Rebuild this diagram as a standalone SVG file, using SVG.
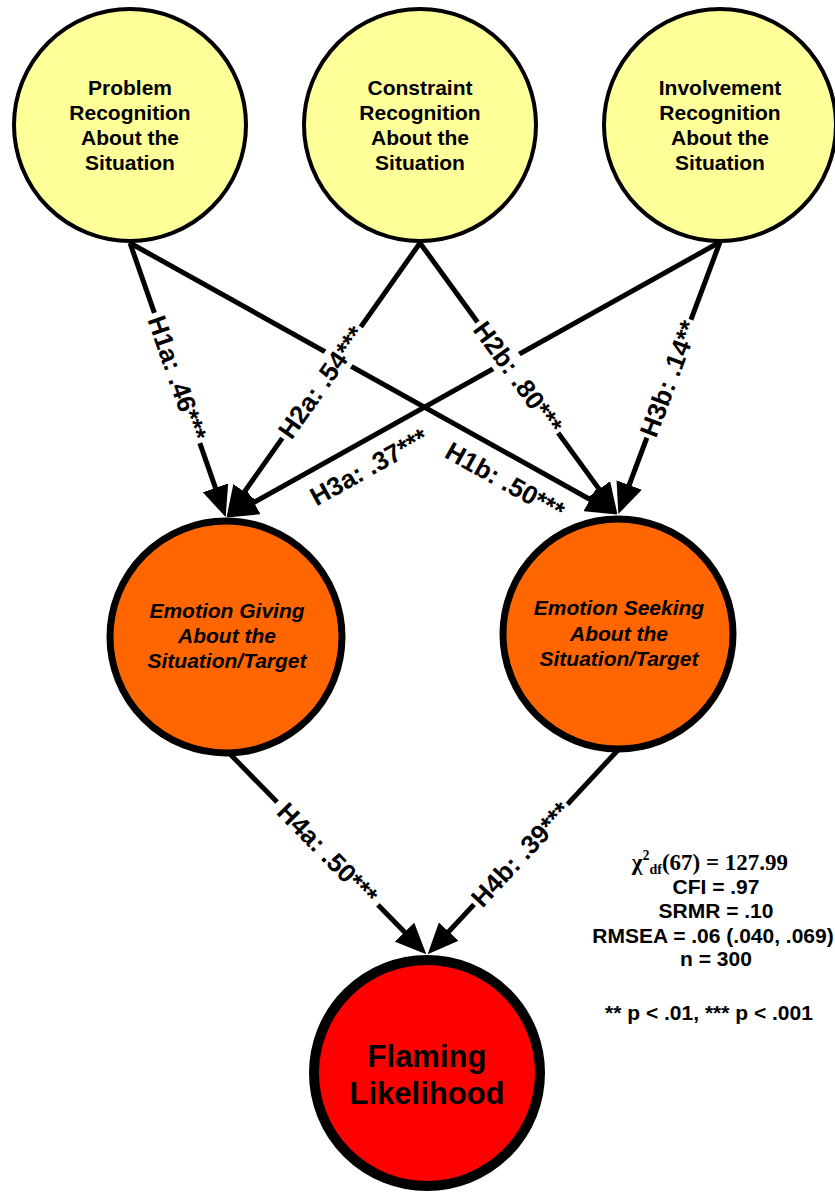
<svg xmlns="http://www.w3.org/2000/svg" width="835" height="1195" viewBox="0 0 835 1195">
<style>
.t{font-family:"Liberation Sans",Arial,sans-serif;font-weight:bold;fill:#000;text-anchor:middle}
.top{font-size:21px}
.mid{font-size:21px;font-style:italic}
.big{font-size:31px}
.lab{font-size:26px}
.st{font-size:21px}
.conn{stroke:#000;stroke-width:5;fill:none;marker-end:url(#ah)}
.bg{fill:#fff}
</style>
<defs>
<marker id="ah" markerUnits="userSpaceOnUse" markerWidth="31" markerHeight="27" viewBox="0 0 31 27" refX="16" refY="13.5" orient="auto">
<path d="M0,0 L31,13.5 L0,27 Z" fill="#000"/>
</marker>
</defs>
<rect width="835" height="1195" fill="#fff"/>
<g id="connectors">
<line class="conn" x1="130" y1="243" x2="220.7" y2="502.9"/>
<line class="conn" x1="420" y1="243" x2="235.2" y2="504.9"/>
<line class="conn" x1="720" y1="242" x2="240" y2="510.2"/>
<line class="conn" x1="420" y1="243" x2="608.6" y2="502.1"/>
<line class="conn" x1="130" y1="243" x2="604" y2="507.2"/>
<line class="conn" x1="720" y1="242" x2="623.6" y2="500"/>
<line class="conn" x1="228" y1="752" x2="415.8" y2="943.6"/>
<line class="conn" x1="618" y1="750" x2="437.9" y2="943.3"/>
</g>
<g id="labels">
<g transform="translate(177.1,378) rotate(70.75)"><rect class="bg" x="-69" y="-15" width="138" height="30"/><text class="t lab" x="0" y="9">H1a: .46***</text></g>
<g transform="translate(321.6,382.5) rotate(-54.8)"><rect class="bg" x="-68" y="-15" width="136" height="30"/><text class="t lab" x="0" y="9">H2a: .54***</text></g>
<g transform="translate(517.9,377.5) rotate(53.95)"><rect class="bg" x="-68.5" y="-15" width="137" height="30"/><text class="t lab" x="0" y="9">H2b: .80***</text></g>
<g transform="translate(668.9,378.8) rotate(-69.5)"><rect class="bg" x="-63" y="-15" width="126" height="30"/><text class="t lab" x="0" y="9">H3b: .14**</text></g>
<g transform="translate(505,481) rotate(29.13)"><text class="t lab" x="0" y="9">H1b: .50***</text></g>
<g transform="translate(369,467) rotate(-29.19)"><text class="t lab" x="0" y="9">H3a: .37***</text></g>
<g transform="translate(327.5,853.5) rotate(45.57)"><rect class="bg" x="-72" y="-15" width="144" height="30"/><text class="t lab" x="0" y="9">H4a: .50***</text></g>
<g transform="translate(520.7,854.4) rotate(-47.03)"><rect class="bg" x="-68.5" y="-15" width="137" height="30"/><text class="t lab" x="0" y="9">H4b: .39***</text></g>
</g>
<g id="problem">
<circle cx="130" cy="125" r="116" fill="#FFFF99" stroke="#000" stroke-width="4"/>
<text class="t top"><tspan x="130" y="95">Problem</tspan><tspan x="130" y="120">Recognition</tspan><tspan x="130" y="145">About the</tspan><tspan x="130" y="170">Situation</tspan></text>
</g>
<g id="constraint">
<circle cx="420" cy="125" r="116" fill="#FFFF99" stroke="#000" stroke-width="4"/>
<text class="t top"><tspan x="420" y="95">Constraint</tspan><tspan x="420" y="120">Recognition</tspan><tspan x="420" y="145">About the</tspan><tspan x="420" y="170">Situation</tspan></text>
</g>
<g id="involvement">
<circle cx="720" cy="125" r="116" fill="#FFFF99" stroke="#000" stroke-width="4"/>
<text class="t top"><tspan x="720" y="95">Involvement</tspan><tspan x="720" y="120">Recognition</tspan><tspan x="720" y="145">About the</tspan><tspan x="720" y="170">Situation</tspan></text>
</g>
<g id="giving">
<circle cx="226" cy="637" r="116" fill="#FF6600" stroke="#000" stroke-width="7"/>
<text class="t mid"><tspan x="227" y="618">Emotion Giving</tspan><tspan x="227" y="643">About the</tspan><tspan x="227" y="668">Situation/Target</tspan></text>
</g>
<g id="seeking">
<circle cx="618" cy="634" r="115" fill="#FF6600" stroke="#000" stroke-width="7"/>
<text class="t mid"><tspan x="619" y="615">Emotion Seeking</tspan><tspan x="619" y="641">About the</tspan><tspan x="619" y="666">Situation/Target</tspan></text>
</g>
<g id="flaming">
<circle cx="427" cy="1073" r="113" fill="#FF0000" stroke="#000" stroke-width="10"/>
<text class="t big"><tspan x="427" y="1067">Flaming</tspan><tspan x="427" y="1104">Likelihood</tspan></text>
</g>
<g id="stats">
<text x="710" y="870" style="font-family:'Liberation Serif','Times New Roman',serif;font-weight:bold;font-size:23px;text-anchor:middle">χ<tspan font-size="14" dy="-10">2</tspan><tspan font-size="14" dy="14">df</tspan><tspan dy="-4">(67) = 127.99</tspan></text>
<text class="t st" x="716" y="894">CFI = .97</text>
<text class="t st" x="716" y="918">SRMR = .10</text>
<text class="t st" x="713" y="943">RMSEA = .06 (.040, .069)</text>
<text class="t st" x="716" y="966">n = 300</text>
<text class="t st" x="709" y="1020">** p &lt; .01, *** p &lt; .001</text>
</g>
</svg>
